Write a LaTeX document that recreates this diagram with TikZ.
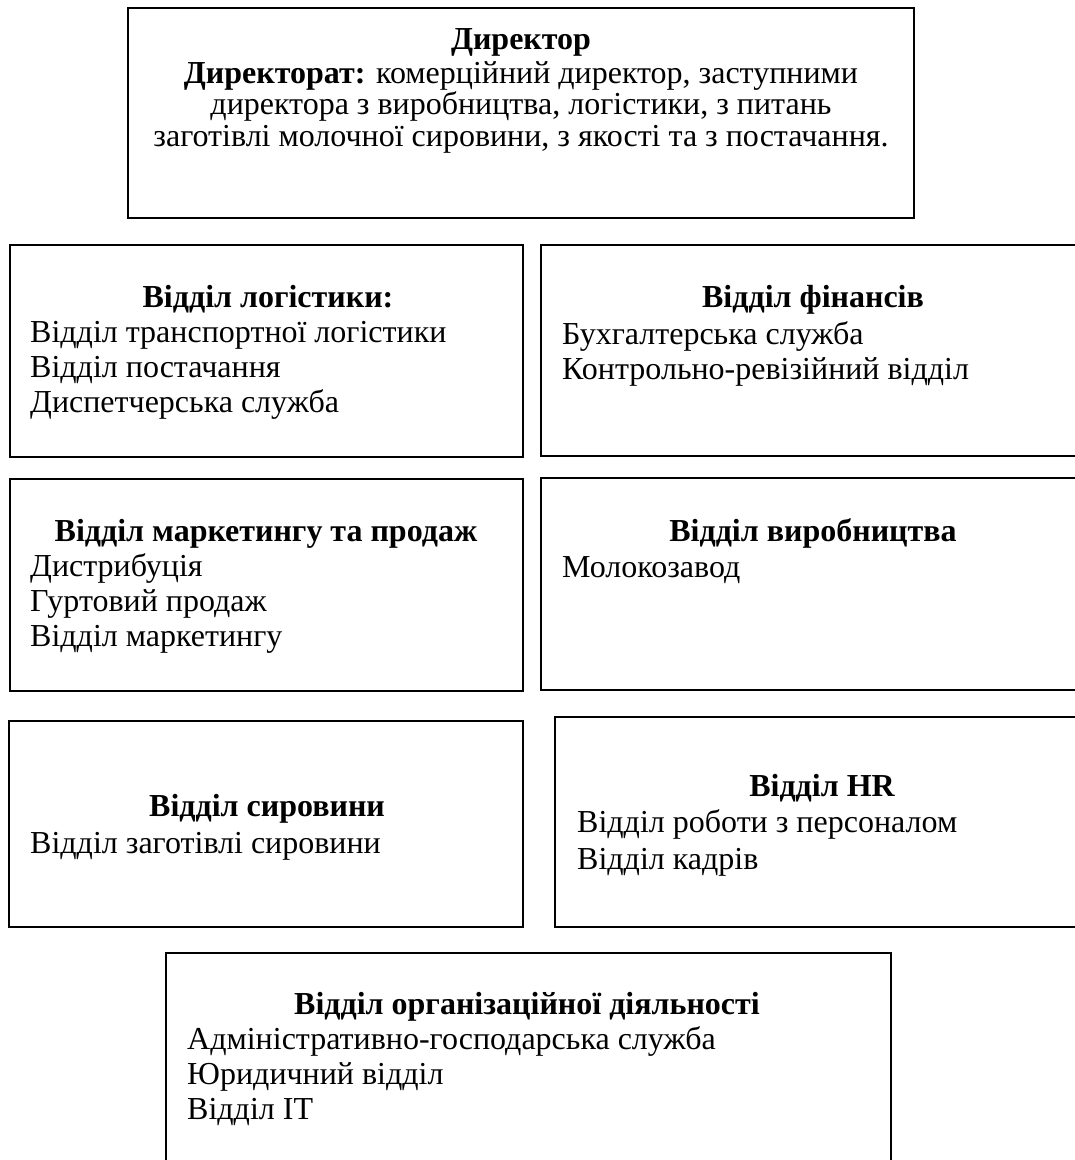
\documentclass[tikz,border=0pt]{standalone}
\usepackage{fontspec}
\setmainfont{Liberation Serif}
\begin{document}
\begin{tikzpicture}[x=1pt,y=-1pt,
  box/.style={draw=black,line width=1.8pt},
  ttl/.style={anchor=base,inner sep=0pt,font=\fontsize{32}{36}\selectfont\bfseries},
  ctr/.style={anchor=base,inner sep=0pt,font=\fontsize{32}{36}\selectfont},
  itm/.style={anchor=base west,inner sep=0pt,font=\fontsize{32}{36}\selectfont}]
\useasboundingbox (0,0) rectangle (1075,1160);
\clip (0,0) rectangle (1075,1160);
% boxes
\draw[box] (128,8) rectangle (914,218);
\draw[box] (10,245) rectangle (523,457);
\draw[box] (541,245) rectangle (1085,456);
\draw[box] (10,479) rectangle (523,691);
\draw[box] (541,478) rectangle (1085,690);
\draw[box] (9,721) rectangle (523,927);
\draw[box] (555,717) rectangle (1085,927);
\draw[box] (166,953) rectangle (891,1170);
% director
\node[ttl] (d1) at (521,49) {Директор};
\node[ctr] (d2) at (521,83) {\textbf{Директорат:} комерційний директор, заступними};
\node[ctr] (d3) at (521,114.5) {директора з виробництва, логістики, з питань};
\node[ctr] (d4) at (521,146) {заготівлі молочної сировини, з якості та з постачання.};
% logistics
\node[ttl] (l0) at (268,307) {Відділ логістики:};
\node[itm] (l1) at (30,342) {Відділ транспортної логістики};
\node[itm] (l2) at (30,377) {Відділ постачання};
\node[itm] (l3) at (30,412) {Диспетчерська служба};
% finance
\node[ttl] (f0) at (813,307) {Відділ фінансів};
\node[itm] (f1) at (562,344) {Бухгалтерська служба};
\node[itm] (f2) at (562,379) {Контрольно-ревізійний відділ};
% marketing
\node[ttl] (m0) at (266,541) {Відділ маркетингу та продаж};
\node[itm] (m1) at (30,576) {Дистрибуція};
\node[itm] (m2) at (30,611) {Гуртовий продаж};
\node[itm] (m3) at (30,646) {Відділ маркетингу};
% production
\node[ttl] (p0) at (813,541) {Відділ виробництва};
\node[itm] (p1) at (562,577) {Молокозавод};
% raw materials
\node[ttl] (r0) at (267,816) {Відділ сировини};
\node[itm] (r1) at (30,853) {Відділ заготівлі сировини};
% HR
\node[ttl] (h0) at (822,796) {Відділ HR};
\node[itm] (h1) at (577,832) {Відділ роботи з персоналом};
\node[itm] (h2) at (577,869) {Відділ кадрів};
% organisational
\node[ttl] (o0) at (527,1014) {Відділ організаційної діяльності};
\node[itm] (o1) at (187,1049) {Адміністративно-господарська служба};
\node[itm] (o2) at (187,1084) {Юридичний відділ};
\node[itm] (o3) at (187,1119) {Відділ IT};
\end{tikzpicture}
\end{document}
